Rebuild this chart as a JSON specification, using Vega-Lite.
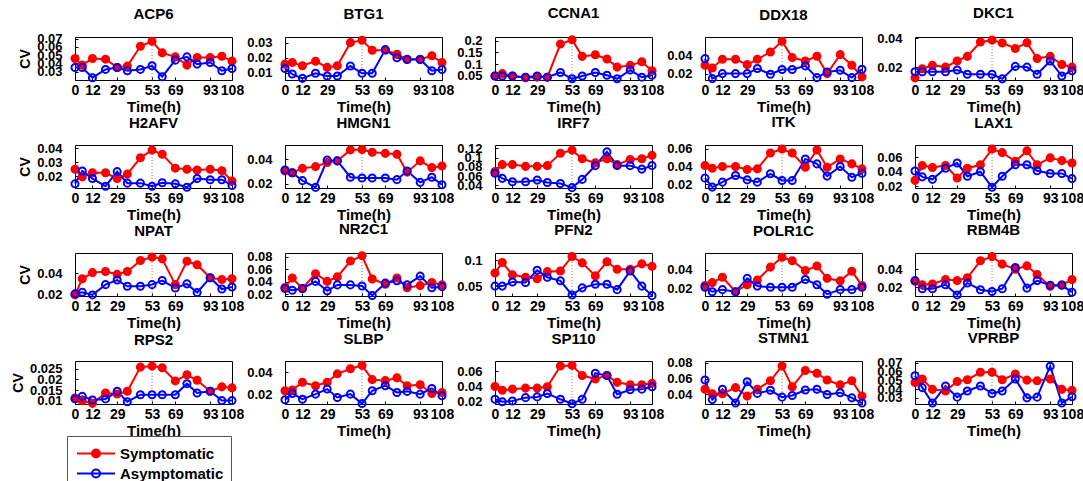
{
"$schema":"https://vega.github.io/schema/vega-lite/v6.json",
"autosize":{"type":"pad"},
"padding":{"left":10,"top":5,"right":5,"bottom":5},
"background":"white",
"columns":5,
"spacing":{"row":65,"column":53},
"bounds":"flush",
"data":{"values":[
{"g":"ACP6","t":0,"Symptomatic":0.046,"Asymptomatic":0.0352},{"g":"ACP6","t":5,"Symptomatic":0.038,"Asymptomatic":0.0352},{"g":"ACP6","t":12,"Symptomatic":0.046,"Asymptomatic":0.0228},{"g":"ACP6","t":21,"Symptomatic":0.0452,"Asymptomatic":0.0328},{"g":"ACP6","t":29,"Symptomatic":0.0352,"Asymptomatic":0.0352},{"g":"ACP6","t":36,"Symptomatic":0.0368,"Asymptomatic":0.0312},{"g":"ACP6","t":45,"Symptomatic":0.0608,"Asymptomatic":0.0328},{"g":"ACP6","t":53,"Symptomatic":0.0668,"Asymptomatic":0.0372},{"g":"ACP6","t":60,"Symptomatic":0.0528,"Asymptomatic":0.024},{"g":"ACP6","t":69,"Symptomatic":0.048,"Asymptomatic":0.044},{"g":"ACP6","t":77,"Symptomatic":0.038,"Asymptomatic":0.048},{"g":"ACP6","t":84,"Symptomatic":0.0472,"Asymptomatic":0.0392},{"g":"ACP6","t":93,"Symptomatic":0.0472,"Asymptomatic":0.0412},{"g":"ACP6","t":101,"Symptomatic":0.0488,"Asymptomatic":0.0312},{"g":"ACP6","t":108,"Symptomatic":0.0428,"Asymptomatic":0.034},
{"g":"BTG1","t":0,"Symptomatic":0.0157,"Asymptomatic":0.0128},{"g":"BTG1","t":5,"Symptomatic":0.0168,"Asymptomatic":0.009},{"g":"BTG1","t":12,"Symptomatic":0.0146,"Asymptomatic":0.0061},{"g":"BTG1","t":21,"Symptomatic":0.0177,"Asymptomatic":0.0095},{"g":"BTG1","t":29,"Symptomatic":0.0135,"Asymptomatic":0.0077},{"g":"BTG1","t":36,"Symptomatic":0.0146,"Asymptomatic":0.0077},{"g":"BTG1","t":45,"Symptomatic":0.0302,"Asymptomatic":0.0144},{"g":"BTG1","t":53,"Symptomatic":0.0318,"Asymptomatic":0.0095},{"g":"BTG1","t":60,"Symptomatic":0.0251,"Asymptomatic":0.0095},{"g":"BTG1","t":69,"Symptomatic":0.0251,"Asymptomatic":0.0255},{"g":"BTG1","t":77,"Symptomatic":0.0224,"Asymptomatic":0.02},{"g":"BTG1","t":84,"Symptomatic":0.019,"Asymptomatic":0.0188},{"g":"BTG1","t":93,"Symptomatic":0.019,"Asymptomatic":0.0188},{"g":"BTG1","t":101,"Symptomatic":0.0213,"Asymptomatic":0.0112},{"g":"BTG1","t":108,"Symptomatic":0.0168,"Asymptomatic":0.0121},
{"g":"CCNA1","t":0,"Symptomatic":0.05,"Asymptomatic":0.05},{"g":"CCNA1","t":5,"Symptomatic":0.06,"Asymptomatic":0.05},{"g":"CCNA1","t":12,"Symptomatic":0.05,"Asymptomatic":0.05},{"g":"CCNA1","t":21,"Symptomatic":0.0425,"Asymptomatic":0.045},{"g":"CCNA1","t":29,"Symptomatic":0.045,"Asymptomatic":0.05},{"g":"CCNA1","t":36,"Symptomatic":0.045,"Asymptomatic":0.045},{"g":"CCNA1","t":45,"Symptomatic":0.185,"Asymptomatic":0.065},{"g":"CCNA1","t":53,"Symptomatic":0.203,"Asymptomatic":0.038},{"g":"CCNA1","t":60,"Symptomatic":0.133,"Asymptomatic":0.05},{"g":"CCNA1","t":69,"Symptomatic":0.14,"Asymptomatic":0.065},{"g":"CCNA1","t":77,"Symptomatic":0.122,"Asymptomatic":0.053},{"g":"CCNA1","t":84,"Symptomatic":0.0875,"Asymptomatic":0.038},{"g":"CCNA1","t":93,"Symptomatic":0.095,"Asymptomatic":0.075},{"g":"CCNA1","t":101,"Symptomatic":0.11,"Asymptomatic":0.045},{"g":"CCNA1","t":108,"Symptomatic":0.0725,"Asymptomatic":0.053},
{"g":"DDX18","t":0,"Symptomatic":0.0291,"Asymptomatic":0.0364},{"g":"DDX18","t":5,"Symptomatic":0.0262,"Asymptomatic":0.0145},{"g":"DDX18","t":12,"Symptomatic":0.0356,"Asymptomatic":0.02},{"g":"DDX18","t":21,"Symptomatic":0.0356,"Asymptomatic":0.02},{"g":"DDX18","t":29,"Symptomatic":0.0298,"Asymptomatic":0.02},{"g":"DDX18","t":36,"Symptomatic":0.0356,"Asymptomatic":0.0255},{"g":"DDX18","t":45,"Symptomatic":0.0436,"Asymptomatic":0.0193},{"g":"DDX18","t":53,"Symptomatic":0.0553,"Asymptomatic":0.0244},{"g":"DDX18","t":60,"Symptomatic":0.0375,"Asymptomatic":0.0244},{"g":"DDX18","t":69,"Symptomatic":0.0338,"Asymptomatic":0.0284},{"g":"DDX18","t":77,"Symptomatic":0.0389,"Asymptomatic":0.0156},{"g":"DDX18","t":84,"Symptomatic":0.02,"Asymptomatic":0.0218},{"g":"DDX18","t":93,"Symptomatic":0.0407,"Asymptomatic":0.0236},{"g":"DDX18","t":101,"Symptomatic":0.0291,"Asymptomatic":0.0156},{"g":"DDX18","t":108,"Symptomatic":0.0164,"Asymptomatic":0.0247},
{"g":"DKC1","t":0,"Symptomatic":0.0125,"Asymptomatic":0.0168},{"g":"DKC1","t":5,"Symptomatic":0.0188,"Asymptomatic":0.0168},{"g":"DKC1","t":12,"Symptomatic":0.0212,"Asymptomatic":0.0168},{"g":"DKC1","t":21,"Symptomatic":0.02,"Asymptomatic":0.0168},{"g":"DKC1","t":29,"Symptomatic":0.0243,"Asymptomatic":0.018},{"g":"DKC1","t":36,"Symptomatic":0.0275,"Asymptomatic":0.015},{"g":"DKC1","t":45,"Symptomatic":0.0375,"Asymptomatic":0.015},{"g":"DKC1","t":53,"Symptomatic":0.0388,"Asymptomatic":0.015},{"g":"DKC1","t":60,"Symptomatic":0.0368,"Asymptomatic":0.0118},{"g":"DKC1","t":69,"Symptomatic":0.033,"Asymptomatic":0.0205},{"g":"DKC1","t":77,"Symptomatic":0.037,"Asymptomatic":0.02},{"g":"DKC1","t":84,"Symptomatic":0.026,"Asymptomatic":0.015},{"g":"DKC1","t":93,"Symptomatic":0.0275,"Asymptomatic":0.0243},{"g":"DKC1","t":101,"Symptomatic":0.0218,"Asymptomatic":0.0138},{"g":"DKC1","t":108,"Symptomatic":0.02,"Asymptomatic":0.0175},
{"g":"H2AFV","t":0,"Symptomatic":0.025,"Asymptomatic":0.0145},{"g":"H2AFV","t":5,"Symptomatic":0.0195,"Asymptomatic":0.0238},{"g":"H2AFV","t":12,"Symptomatic":0.0225,"Asymptomatic":0.0183},{"g":"H2AFV","t":21,"Symptomatic":0.0225,"Asymptomatic":0.0128},{"g":"H2AFV","t":29,"Symptomatic":0.0183,"Asymptomatic":0.0233},{"g":"H2AFV","t":36,"Symptomatic":0.0215,"Asymptomatic":0.015},{"g":"H2AFV","t":45,"Symptomatic":0.0333,"Asymptomatic":0.015},{"g":"H2AFV","t":53,"Symptomatic":0.0388,"Asymptomatic":0.0128},{"g":"H2AFV","t":60,"Symptomatic":0.0358,"Asymptomatic":0.0153},{"g":"H2AFV","t":69,"Symptomatic":0.0258,"Asymptomatic":0.0145},{"g":"H2AFV","t":77,"Symptomatic":0.025,"Asymptomatic":0.012},{"g":"H2AFV","t":84,"Symptomatic":0.0245,"Asymptomatic":0.0183},{"g":"H2AFV","t":93,"Symptomatic":0.025,"Asymptomatic":0.0175},{"g":"H2AFV","t":101,"Symptomatic":0.024,"Asymptomatic":0.0175},{"g":"H2AFV","t":108,"Symptomatic":0.0165,"Asymptomatic":0.0133},
{"g":"HMGN1","t":0,"Symptomatic":0.0303,"Asymptomatic":0.0311},{"g":"HMGN1","t":5,"Symptomatic":0.0289,"Asymptomatic":0.0289},{"g":"HMGN1","t":12,"Symptomatic":0.0325,"Asymptomatic":0.0225},{"g":"HMGN1","t":21,"Symptomatic":0.0339,"Asymptomatic":0.017},{"g":"HMGN1","t":29,"Symptomatic":0.0372,"Asymptomatic":0.0392},{"g":"HMGN1","t":36,"Symptomatic":0.0386,"Asymptomatic":0.0386},{"g":"HMGN1","t":45,"Symptomatic":0.0475,"Asymptomatic":0.0253},{"g":"HMGN1","t":53,"Symptomatic":0.0478,"Asymptomatic":0.0247},{"g":"HMGN1","t":60,"Symptomatic":0.0456,"Asymptomatic":0.0247},{"g":"HMGN1","t":69,"Symptomatic":0.0447,"Asymptomatic":0.0247},{"g":"HMGN1","t":77,"Symptomatic":0.044,"Asymptomatic":0.0233},{"g":"HMGN1","t":84,"Symptomatic":0.0294,"Asymptomatic":0.0303},{"g":"HMGN1","t":93,"Symptomatic":0.0386,"Asymptomatic":0.0211},{"g":"HMGN1","t":101,"Symptomatic":0.0331,"Asymptomatic":0.0253},{"g":"HMGN1","t":108,"Symptomatic":0.0344,"Asymptomatic":0.0192},
{"g":"IRF7","t":0,"Symptomatic":0.07,"Asymptomatic":0.0662},{"g":"IRF7","t":5,"Symptomatic":0.0849,"Asymptomatic":0.055},{"g":"IRF7","t":12,"Symptomatic":0.0849,"Asymptomatic":0.0475},{"g":"IRF7","t":21,"Symptomatic":0.0811,"Asymptomatic":0.0475},{"g":"IRF7","t":29,"Symptomatic":0.0811,"Asymptomatic":0.0512},{"g":"IRF7","t":36,"Symptomatic":0.0826,"Asymptomatic":0.046},{"g":"IRF7","t":45,"Symptomatic":0.1095,"Asymptomatic":0.0437},{"g":"IRF7","t":53,"Symptomatic":0.1163,"Asymptomatic":0.0348},{"g":"IRF7","t":60,"Symptomatic":0.0976,"Asymptomatic":0.0527},{"g":"IRF7","t":69,"Symptomatic":0.0886,"Asymptomatic":0.0826},{"g":"IRF7","t":77,"Symptomatic":0.0976,"Asymptomatic":0.1125},{"g":"IRF7","t":84,"Symptomatic":0.0849,"Asymptomatic":0.0826},{"g":"IRF7","t":93,"Symptomatic":0.0961,"Asymptomatic":0.0826},{"g":"IRF7","t":101,"Symptomatic":0.0976,"Asymptomatic":0.0751},{"g":"IRF7","t":108,"Symptomatic":0.105,"Asymptomatic":0.0826},
{"g":"ITK","t":0,"Symptomatic":0.0413,"Asymptomatic":0.0271},{"g":"ITK","t":5,"Symptomatic":0.0383,"Asymptomatic":0.017},{"g":"ITK","t":12,"Symptomatic":0.0402,"Asymptomatic":0.0226},{"g":"ITK","t":21,"Symptomatic":0.0402,"Asymptomatic":0.0301},{"g":"ITK","t":29,"Symptomatic":0.0368,"Asymptomatic":0.0252},{"g":"ITK","t":36,"Symptomatic":0.0376,"Asymptomatic":0.0226},{"g":"ITK","t":45,"Symptomatic":0.0555,"Asymptomatic":0.032},{"g":"ITK","t":53,"Symptomatic":0.06,"Asymptomatic":0.0245},{"g":"ITK","t":60,"Symptomatic":0.0555,"Asymptomatic":0.0245},{"g":"ITK","t":69,"Symptomatic":0.0394,"Asymptomatic":0.0488},{"g":"ITK","t":77,"Symptomatic":0.0589,"Asymptomatic":0.0432},{"g":"ITK","t":84,"Symptomatic":0.0394,"Asymptomatic":0.0294},{"g":"ITK","t":93,"Symptomatic":0.0488,"Asymptomatic":0.0402},{"g":"ITK","t":101,"Symptomatic":0.0432,"Asymptomatic":0.0282},{"g":"ITK","t":108,"Symptomatic":0.0376,"Asymptomatic":0.0327},
{"g":"LAX1","t":0,"Symptomatic":0.0281,"Asymptomatic":0.041},{"g":"LAX1","t":5,"Symptomatic":0.0486,"Asymptomatic":0.0329},{"g":"LAX1","t":12,"Symptomatic":0.0457,"Asymptomatic":0.0295},{"g":"LAX1","t":21,"Symptomatic":0.0486,"Asymptomatic":0.0448},{"g":"LAX1","t":29,"Symptomatic":0.0314,"Asymptomatic":0.0519},{"g":"LAX1","t":36,"Symptomatic":0.0448,"Asymptomatic":0.0338},{"g":"LAX1","t":45,"Symptomatic":0.0495,"Asymptomatic":0.04},{"g":"LAX1","t":53,"Symptomatic":0.071,"Asymptomatic":0.0186},{"g":"LAX1","t":60,"Symptomatic":0.0662,"Asymptomatic":0.0338},{"g":"LAX1","t":69,"Symptomatic":0.0543,"Asymptomatic":0.0495},{"g":"LAX1","t":77,"Symptomatic":0.0686,"Asymptomatic":0.0495},{"g":"LAX1","t":84,"Symptomatic":0.0495,"Asymptomatic":0.0414},{"g":"LAX1","t":93,"Symptomatic":0.059,"Asymptomatic":0.0376},{"g":"LAX1","t":101,"Symptomatic":0.0552,"Asymptomatic":0.0376},{"g":"LAX1","t":108,"Symptomatic":0.0519,"Asymptomatic":0.0305},
{"g":"NPAT","t":0,"Symptomatic":0.02,"Asymptomatic":0.021},{"g":"NPAT","t":5,"Symptomatic":0.0349,"Asymptomatic":0.0225},{"g":"NPAT","t":12,"Symptomatic":0.0406,"Asymptomatic":0.02},{"g":"NPAT","t":21,"Symptomatic":0.0416,"Asymptomatic":0.0295},{"g":"NPAT","t":29,"Symptomatic":0.039,"Asymptomatic":0.0337},{"g":"NPAT","t":36,"Symptomatic":0.0416,"Asymptomatic":0.028},{"g":"NPAT","t":45,"Symptomatic":0.0517,"Asymptomatic":0.028},{"g":"NPAT","t":53,"Symptomatic":0.0549,"Asymptomatic":0.0295},{"g":"NPAT","t":60,"Symptomatic":0.0533,"Asymptomatic":0.0333},{"g":"NPAT","t":69,"Symptomatic":0.0295,"Asymptomatic":0.0264},{"g":"NPAT","t":77,"Symptomatic":0.0511,"Asymptomatic":0.0302},{"g":"NPAT","t":84,"Symptomatic":0.0479,"Asymptomatic":0.0222},{"g":"NPAT","t":93,"Symptomatic":0.0359,"Asymptomatic":0.0359},{"g":"NPAT","t":101,"Symptomatic":0.0343,"Asymptomatic":0.0254},{"g":"NPAT","t":108,"Symptomatic":0.0349,"Asymptomatic":0.0273},
{"g":"NR2C1","t":0,"Symptomatic":0.0307,"Asymptomatic":0.029},{"g":"NR2C1","t":5,"Symptomatic":0.0458,"Asymptomatic":0.0263},{"g":"NR2C1","t":12,"Symptomatic":0.029,"Asymptomatic":0.029},{"g":"NR2C1","t":21,"Symptomatic":0.0526,"Asymptomatic":0.0403},{"g":"NR2C1","t":29,"Symptomatic":0.0403,"Asymptomatic":0.0252},{"g":"NR2C1","t":36,"Symptomatic":0.0475,"Asymptomatic":0.0347},{"g":"NR2C1","t":45,"Symptomatic":0.0727,"Asymptomatic":0.0347},{"g":"NR2C1","t":53,"Symptomatic":0.0811,"Asymptomatic":0.033},{"g":"NR2C1","t":60,"Symptomatic":0.0441,"Asymptomatic":0.0179},{"g":"NR2C1","t":69,"Symptomatic":0.0358,"Asymptomatic":0.0375},{"g":"NR2C1","t":77,"Symptomatic":0.0458,"Asymptomatic":0.0414},{"g":"NR2C1","t":84,"Symptomatic":0.0302,"Asymptomatic":0.0347},{"g":"NR2C1","t":93,"Symptomatic":0.0336,"Asymptomatic":0.0487},{"g":"NR2C1","t":101,"Symptomatic":0.0386,"Asymptomatic":0.0302},{"g":"NR2C1","t":108,"Symptomatic":0.0347,"Asymptomatic":0.0319},
{"g":"PFN2","t":0,"Symptomatic":0.075,"Asymptomatic":0.05},{"g":"PFN2","t":5,"Symptomatic":0.0953,"Asymptomatic":0.05},{"g":"PFN2","t":12,"Symptomatic":0.0716,"Asymptomatic":0.058},{"g":"PFN2","t":21,"Symptomatic":0.0669,"Asymptomatic":0.057},{"g":"PFN2","t":29,"Symptomatic":0.064,"Asymptomatic":0.0804},{"g":"PFN2","t":36,"Symptomatic":0.0777,"Asymptomatic":0.0669},{"g":"PFN2","t":45,"Symptomatic":0.0791,"Asymptomatic":0.0601},{"g":"PFN2","t":53,"Symptomatic":0.1068,"Asymptomatic":0.033},{"g":"PFN2","t":60,"Symptomatic":0.0946,"Asymptomatic":0.0466},{"g":"PFN2","t":69,"Symptomatic":0.0696,"Asymptomatic":0.0534},{"g":"PFN2","t":77,"Symptomatic":0.0966,"Asymptomatic":0.0534},{"g":"PFN2","t":84,"Symptomatic":0.0824,"Asymptomatic":0.0432},{"g":"PFN2","t":93,"Symptomatic":0.0824,"Asymptomatic":0.0791},{"g":"PFN2","t":101,"Symptomatic":0.0926,"Asymptomatic":0.05},{"g":"PFN2","t":108,"Symptomatic":0.0878,"Asymptomatic":0.0317},
{"g":"POLR1C","t":0,"Symptomatic":0.023,"Asymptomatic":0.0211},{"g":"POLR1C","t":5,"Symptomatic":0.026,"Asymptomatic":0.0162},{"g":"POLR1C","t":12,"Symptomatic":0.0317,"Asymptomatic":0.0185},{"g":"POLR1C","t":21,"Symptomatic":0.0162,"Asymptomatic":0.0162},{"g":"POLR1C","t":29,"Symptomatic":0.0238,"Asymptomatic":0.0306},{"g":"POLR1C","t":36,"Symptomatic":0.0287,"Asymptomatic":0.0223},{"g":"POLR1C","t":45,"Symptomatic":0.0426,"Asymptomatic":0.0211},{"g":"POLR1C","t":53,"Symptomatic":0.0532,"Asymptomatic":0.0211},{"g":"POLR1C","t":60,"Symptomatic":0.0494,"Asymptomatic":0.0211},{"g":"POLR1C","t":69,"Symptomatic":0.0389,"Asymptomatic":0.0294},{"g":"POLR1C","t":77,"Symptomatic":0.0438,"Asymptomatic":0.0238},{"g":"POLR1C","t":84,"Symptomatic":0.0306,"Asymptomatic":0.0136},{"g":"POLR1C","t":93,"Symptomatic":0.0279,"Asymptomatic":0.0185},{"g":"POLR1C","t":101,"Symptomatic":0.0381,"Asymptomatic":0.0185},{"g":"POLR1C","t":108,"Symptomatic":0.023,"Asymptomatic":0.0211},
{"g":"RBM4B","t":0,"Symptomatic":0.0268,"Asymptomatic":0.0275},{"g":"RBM4B","t":5,"Symptomatic":0.023,"Asymptomatic":0.0185},{"g":"RBM4B","t":12,"Symptomatic":0.0238,"Asymptomatic":0.0185},{"g":"RBM4B","t":21,"Symptomatic":0.0287,"Asymptomatic":0.023},{"g":"RBM4B","t":29,"Symptomatic":0.0275,"Asymptomatic":0.0117},{"g":"RBM4B","t":36,"Symptomatic":0.0306,"Asymptomatic":0.0249},{"g":"RBM4B","t":45,"Symptomatic":0.0494,"Asymptomatic":0.0174},{"g":"RBM4B","t":53,"Symptomatic":0.054,"Asymptomatic":0.0155},{"g":"RBM4B","t":60,"Symptomatic":0.0457,"Asymptomatic":0.0185},{"g":"RBM4B","t":69,"Symptomatic":0.04,"Asymptomatic":0.0419},{"g":"RBM4B","t":77,"Symptomatic":0.0438,"Asymptomatic":0.0192},{"g":"RBM4B","t":84,"Symptomatic":0.0343,"Asymptomatic":0.0275},{"g":"RBM4B","t":93,"Symptomatic":0.0211,"Asymptomatic":0.0223},{"g":"RBM4B","t":101,"Symptomatic":0.023,"Asymptomatic":0.0223},{"g":"RBM4B","t":108,"Symptomatic":0.0287,"Asymptomatic":0.0147},
{"g":"RPS2","t":0,"Symptomatic":0.0112,"Asymptomatic":0.0108},{"g":"RPS2","t":5,"Symptomatic":0.0099,"Asymptomatic":0.012},{"g":"RPS2","t":12,"Symptomatic":0.0087,"Asymptomatic":0.0103},{"g":"RPS2","t":21,"Symptomatic":0.0136,"Asymptomatic":0.0108},{"g":"RPS2","t":29,"Symptomatic":0.0131,"Asymptomatic":0.0144},{"g":"RPS2","t":36,"Symptomatic":0.0144,"Asymptomatic":0.0095},{"g":"RPS2","t":45,"Symptomatic":0.0258,"Asymptomatic":0.0128},{"g":"RPS2","t":53,"Symptomatic":0.0263,"Asymptomatic":0.0128},{"g":"RPS2","t":60,"Symptomatic":0.0255,"Asymptomatic":0.0128},{"g":"RPS2","t":69,"Symptomatic":0.0193,"Asymptomatic":0.0128},{"g":"RPS2","t":77,"Symptomatic":0.0222,"Asymptomatic":0.018},{"g":"RPS2","t":84,"Symptomatic":0.0196,"Asymptomatic":0.0136},{"g":"RPS2","t":93,"Symptomatic":0.0144,"Asymptomatic":0.0144},{"g":"RPS2","t":101,"Symptomatic":0.0165,"Asymptomatic":0.01},{"g":"RPS2","t":108,"Symptomatic":0.016,"Asymptomatic":0.01},
{"g":"SLBP","t":0,"Symptomatic":0.0231,"Asymptomatic":0.0148},{"g":"SLBP","t":5,"Symptomatic":0.0237,"Asymptomatic":0.0206},{"g":"SLBP","t":12,"Symptomatic":0.0308,"Asymptomatic":0.0154},{"g":"SLBP","t":21,"Symptomatic":0.0277,"Asymptomatic":0.02},{"g":"SLBP","t":29,"Symptomatic":0.0308,"Asymptomatic":0.0246},{"g":"SLBP","t":36,"Symptomatic":0.0385,"Asymptomatic":0.0169},{"g":"SLBP","t":45,"Symptomatic":0.0431,"Asymptomatic":0.02},{"g":"SLBP","t":53,"Symptomatic":0.0462,"Asymptomatic":0.0114},{"g":"SLBP","t":60,"Symptomatic":0.0332,"Asymptomatic":0.0231},{"g":"SLBP","t":69,"Symptomatic":0.0323,"Asymptomatic":0.0277},{"g":"SLBP","t":77,"Symptomatic":0.0348,"Asymptomatic":0.0215},{"g":"SLBP","t":84,"Symptomatic":0.0277,"Asymptomatic":0.0225},{"g":"SLBP","t":93,"Symptomatic":0.0286,"Asymptomatic":0.02},{"g":"SLBP","t":101,"Symptomatic":0.0206,"Asymptomatic":0.0252},{"g":"SLBP","t":108,"Symptomatic":0.0215,"Asymptomatic":0.0185},
{"g":"SP110","t":0,"Symptomatic":0.0395,"Asymptomatic":0.0223},{"g":"SP110","t":5,"Symptomatic":0.0345,"Asymptomatic":0.0191},{"g":"SP110","t":12,"Symptomatic":0.0359,"Asymptomatic":0.02},{"g":"SP110","t":21,"Symptomatic":0.0373,"Asymptomatic":0.0245},{"g":"SP110","t":29,"Symptomatic":0.0373,"Asymptomatic":0.0255},{"g":"SP110","t":36,"Symptomatic":0.0391,"Asymptomatic":0.03},{"g":"SP110","t":45,"Symptomatic":0.0668,"Asymptomatic":0.0223},{"g":"SP110","t":53,"Symptomatic":0.0677,"Asymptomatic":0.0164},{"g":"SP110","t":60,"Symptomatic":0.0541,"Asymptomatic":0.0223},{"g":"SP110","t":69,"Symptomatic":0.0495,"Asymptomatic":0.0573},{"g":"SP110","t":77,"Symptomatic":0.0541,"Asymptomatic":0.0541},{"g":"SP110","t":84,"Symptomatic":0.045,"Asymptomatic":0.0291},{"g":"SP110","t":93,"Symptomatic":0.0418,"Asymptomatic":0.035},{"g":"SP110","t":101,"Symptomatic":0.0418,"Asymptomatic":0.0359},{"g":"SP110","t":108,"Symptomatic":0.0436,"Asymptomatic":0.0391},
{"g":"STMN1","t":0,"Symptomatic":0.0465,"Asymptomatic":0.0581},{"g":"STMN1","t":5,"Symptomatic":0.0409,"Asymptomatic":0.0335},{"g":"STMN1","t":12,"Symptomatic":0.0409,"Asymptomatic":0.0465},{"g":"STMN1","t":21,"Symptomatic":0.0486,"Asymptomatic":0.0292},{"g":"STMN1","t":29,"Symptomatic":0.0379,"Asymptomatic":0.0559},{"g":"STMN1","t":36,"Symptomatic":0.0465,"Asymptomatic":0.0413},{"g":"STMN1","t":45,"Symptomatic":0.0572,"Asymptomatic":0.0452},{"g":"STMN1","t":53,"Symptomatic":0.0757,"Asymptomatic":0.0366},{"g":"STMN1","t":60,"Symptomatic":0.0495,"Asymptomatic":0.0387},{"g":"STMN1","t":69,"Symptomatic":0.0701,"Asymptomatic":0.0456},{"g":"STMN1","t":77,"Symptomatic":0.0667,"Asymptomatic":0.0465},{"g":"STMN1","t":84,"Symptomatic":0.0581,"Asymptomatic":0.04},{"g":"STMN1","t":93,"Symptomatic":0.052,"Asymptomatic":0.0422},{"g":"STMN1","t":101,"Symptomatic":0.0572,"Asymptomatic":0.0357},{"g":"STMN1","t":108,"Symptomatic":0.0379,"Asymptomatic":0.0292},
{"g":"VPRBP","t":0,"Symptomatic":0.0475,"Asymptomatic":0.0552},{"g":"VPRBP","t":5,"Symptomatic":0.0514,"Asymptomatic":0.0417},{"g":"VPRBP","t":12,"Symptomatic":0.0397,"Asymptomatic":0.0242},{"g":"VPRBP","t":21,"Symptomatic":0.0378,"Asymptomatic":0.0436},{"g":"VPRBP","t":29,"Symptomatic":0.0486,"Asymptomatic":0.0308},{"g":"VPRBP","t":36,"Symptomatic":0.0506,"Asymptomatic":0.0378},{"g":"VPRBP","t":45,"Symptomatic":0.0591,"Asymptomatic":0.0436},{"g":"VPRBP","t":53,"Symptomatic":0.0591,"Asymptomatic":0.035},{"g":"VPRBP","t":60,"Symptomatic":0.0506,"Asymptomatic":0.0378},{"g":"VPRBP","t":69,"Symptomatic":0.0572,"Asymptomatic":0.0514},{"g":"VPRBP","t":77,"Symptomatic":0.0502,"Asymptomatic":0.03},{"g":"VPRBP","t":84,"Symptomatic":0.0494,"Asymptomatic":0.0308},{"g":"VPRBP","t":93,"Symptomatic":0.0514,"Asymptomatic":0.0661},{"g":"VPRBP","t":101,"Symptomatic":0.0397,"Asymptomatic":0.0242},{"g":"VPRBP","t":108,"Symptomatic":0.0385,"Asymptomatic":0.0312}
]},
"concat":[
{"title":"ACP6","width":157,"height":43,"encoding":{"x":{"field":"t","type":"quantitative","scale":{"domain":[0,108],"nice":false},"axis":{"values":[0,12,29,53,69,93,108],"labelOverlap":false,"title":"Time(h)"}}},"layer":[{"data":{"values":[{"t":53}]},"mark":{"type":"rule","color":"#808080","strokeDash":[1,2],"strokeWidth":1},"encoding":{}},{"transform":[{"filter":"datum.g==='ACP6'"},{"fold":["Symptomatic","Asymptomatic"],"as":["group","cv"]}],"encoding":{"y":{"field":"cv","type":"quantitative","scale":{"domain":[0.02,0.072],"nice":false,"zero":false},"axis":{"values":[0.03,0.04,0.05,0.06,0.07],"format":"~g","labelOverlap":false,"title":"CV"}},"color":{"field":"group","type":"nominal","title":null,"scale":{"domain":["Symptomatic","Asymptomatic"],"range":["#ff0000","#0000ff"]}}},"layer":[{"mark":{"type":"line","strokeWidth":2}},{"mark":{"type":"point","filled":false,"size":50,"strokeWidth":2,"opacity":1},"encoding":{"fill":{"field":"group","type":"nominal","title":null,"scale":{"domain":["Symptomatic","Asymptomatic"],"range":["#ff0000","transparent"]}}}}]}]},
{"title":"BTG1","width":157,"height":43,"encoding":{"x":{"field":"t","type":"quantitative","scale":{"domain":[0,108],"nice":false},"axis":{"values":[0,12,29,53,69,93,108],"labelOverlap":false,"title":"Time(h)"}}},"layer":[{"data":{"values":[{"t":53}]},"mark":{"type":"rule","color":"#808080","strokeDash":[1,2],"strokeWidth":1},"encoding":{}},{"transform":[{"filter":"datum.g==='BTG1'"},{"fold":["Symptomatic","Asymptomatic"],"as":["group","cv"]}],"encoding":{"y":{"field":"cv","type":"quantitative","scale":{"domain":[0.005,0.034],"nice":false,"zero":false},"axis":{"values":[0.01,0.02,0.03],"format":"~g","labelOverlap":false,"title":null}},"color":{"field":"group","type":"nominal","title":null,"scale":{"domain":["Symptomatic","Asymptomatic"],"range":["#ff0000","#0000ff"]}}},"layer":[{"mark":{"type":"line","strokeWidth":2}},{"mark":{"type":"point","filled":false,"size":50,"strokeWidth":2,"opacity":1},"encoding":{"fill":{"field":"group","type":"nominal","title":null,"scale":{"domain":["Symptomatic","Asymptomatic"],"range":["#ff0000","transparent"]}}}}]}]},
{"title":"CCNA1","width":157,"height":43,"encoding":{"x":{"field":"t","type":"quantitative","scale":{"domain":[0,108],"nice":false},"axis":{"values":[0,12,29,53,69,93,108],"labelOverlap":false,"title":"Time(h)"}}},"layer":[{"data":{"values":[{"t":53}]},"mark":{"type":"rule","color":"#808080","strokeDash":[1,2],"strokeWidth":1},"encoding":{}},{"transform":[{"filter":"datum.g==='CCNA1'"},{"fold":["Symptomatic","Asymptomatic"],"as":["group","cv"]}],"encoding":{"y":{"field":"cv","type":"quantitative","scale":{"domain":[0.033,0.215],"nice":false,"zero":false},"axis":{"values":[0.05,0.1,0.15,0.2],"format":"~g","labelOverlap":false,"title":null}},"color":{"field":"group","type":"nominal","title":null,"scale":{"domain":["Symptomatic","Asymptomatic"],"range":["#ff0000","#0000ff"]}}},"layer":[{"mark":{"type":"line","strokeWidth":2}},{"mark":{"type":"point","filled":false,"size":50,"strokeWidth":2,"opacity":1},"encoding":{"fill":{"field":"group","type":"nominal","title":null,"scale":{"domain":["Symptomatic","Asymptomatic"],"range":["#ff0000","transparent"]}}}}]}]},
{"title":"DDX18","width":157,"height":43,"encoding":{"x":{"field":"t","type":"quantitative","scale":{"domain":[0,108],"nice":false},"axis":{"values":[0,12,29,53,69,93,108],"labelOverlap":false,"title":"Time(h)"}}},"layer":[{"data":{"values":[{"t":53}]},"mark":{"type":"rule","color":"#808080","strokeDash":[1,2],"strokeWidth":1},"encoding":{}},{"transform":[{"filter":"datum.g==='DDX18'"},{"fold":["Symptomatic","Asymptomatic"],"as":["group","cv"]}],"encoding":{"y":{"field":"cv","type":"quantitative","scale":{"domain":[0.013,0.06],"nice":false,"zero":false},"axis":{"values":[0.02,0.04],"format":"~g","labelOverlap":false,"title":null}},"color":{"field":"group","type":"nominal","title":null,"scale":{"domain":["Symptomatic","Asymptomatic"],"range":["#ff0000","#0000ff"]}}},"layer":[{"mark":{"type":"line","strokeWidth":2}},{"mark":{"type":"point","filled":false,"size":50,"strokeWidth":2,"opacity":1},"encoding":{"fill":{"field":"group","type":"nominal","title":null,"scale":{"domain":["Symptomatic","Asymptomatic"],"range":["#ff0000","transparent"]}}}}]}]},
{"title":"DKC1","width":157,"height":43,"encoding":{"x":{"field":"t","type":"quantitative","scale":{"domain":[0,108],"nice":false},"axis":{"values":[0,12,29,53,69,93,108],"labelOverlap":false,"title":"Time(h)"}}},"layer":[{"data":{"values":[{"t":53}]},"mark":{"type":"rule","color":"#808080","strokeDash":[1,2],"strokeWidth":1},"encoding":{}},{"transform":[{"filter":"datum.g==='DKC1'"},{"fold":["Symptomatic","Asymptomatic"],"as":["group","cv"]}],"encoding":{"y":{"field":"cv","type":"quantitative","scale":{"domain":[0.011,0.041],"nice":false,"zero":false},"axis":{"values":[0.02,0.04],"format":"~g","labelOverlap":false,"title":null}},"color":{"field":"group","type":"nominal","title":null,"scale":{"domain":["Symptomatic","Asymptomatic"],"range":["#ff0000","#0000ff"]}}},"layer":[{"mark":{"type":"line","strokeWidth":2}},{"mark":{"type":"point","filled":false,"size":50,"strokeWidth":2,"opacity":1},"encoding":{"fill":{"field":"group","type":"nominal","title":null,"scale":{"domain":["Symptomatic","Asymptomatic"],"range":["#ff0000","transparent"]}}}}]}]},
{"title":"H2AFV","width":157,"height":43,"encoding":{"x":{"field":"t","type":"quantitative","scale":{"domain":[0,108],"nice":false},"axis":{"values":[0,12,29,53,69,93,108],"labelOverlap":false,"title":"Time(h)"}}},"layer":[{"data":{"values":[{"t":53}]},"mark":{"type":"rule","color":"#808080","strokeDash":[1,2],"strokeWidth":1},"encoding":{}},{"transform":[{"filter":"datum.g==='H2AFV'"},{"fold":["Symptomatic","Asymptomatic"],"as":["group","cv"]}],"encoding":{"y":{"field":"cv","type":"quantitative","scale":{"domain":[0.0115,0.0425],"nice":false,"zero":false},"axis":{"values":[0.02,0.03,0.04],"format":"~g","labelOverlap":false,"title":"CV"}},"color":{"field":"group","type":"nominal","title":null,"scale":{"domain":["Symptomatic","Asymptomatic"],"range":["#ff0000","#0000ff"]}}},"layer":[{"mark":{"type":"line","strokeWidth":2}},{"mark":{"type":"point","filled":false,"size":50,"strokeWidth":2,"opacity":1},"encoding":{"fill":{"field":"group","type":"nominal","title":null,"scale":{"domain":["Symptomatic","Asymptomatic"],"range":["#ff0000","transparent"]}}}}]}]},
{"title":"HMGN1","width":157,"height":43,"encoding":{"x":{"field":"t","type":"quantitative","scale":{"domain":[0,108],"nice":false},"axis":{"values":[0,12,29,53,69,93,108],"labelOverlap":false,"title":"Time(h)"}}},"layer":[{"data":{"values":[{"t":53}]},"mark":{"type":"rule","color":"#808080","strokeDash":[1,2],"strokeWidth":1},"encoding":{}},{"transform":[{"filter":"datum.g==='HMGN1'"},{"fold":["Symptomatic","Asymptomatic"],"as":["group","cv"]}],"encoding":{"y":{"field":"cv","type":"quantitative","scale":{"domain":[0.0165,0.0515],"nice":false,"zero":false},"axis":{"values":[0.02,0.04],"format":"~g","labelOverlap":false,"title":null}},"color":{"field":"group","type":"nominal","title":null,"scale":{"domain":["Symptomatic","Asymptomatic"],"range":["#ff0000","#0000ff"]}}},"layer":[{"mark":{"type":"line","strokeWidth":2}},{"mark":{"type":"point","filled":false,"size":50,"strokeWidth":2,"opacity":1},"encoding":{"fill":{"field":"group","type":"nominal","title":null,"scale":{"domain":["Symptomatic","Asymptomatic"],"range":["#ff0000","transparent"]}}}}]}]},
{"title":"IRF7","width":157,"height":43,"encoding":{"x":{"field":"t","type":"quantitative","scale":{"domain":[0,108],"nice":false},"axis":{"values":[0,12,29,53,69,93,108],"labelOverlap":false,"title":"Time(h)"}}},"layer":[{"data":{"values":[{"t":53}]},"mark":{"type":"rule","color":"#808080","strokeDash":[1,2],"strokeWidth":1},"encoding":{}},{"transform":[{"filter":"datum.g==='IRF7'"},{"fold":["Symptomatic","Asymptomatic"],"as":["group","cv"]}],"encoding":{"y":{"field":"cv","type":"quantitative","scale":{"domain":[0.034,0.1275],"nice":false,"zero":false},"axis":{"values":[0.04,0.06,0.08,0.1,0.12],"format":"~g","labelOverlap":false,"title":null}},"color":{"field":"group","type":"nominal","title":null,"scale":{"domain":["Symptomatic","Asymptomatic"],"range":["#ff0000","#0000ff"]}}},"layer":[{"mark":{"type":"line","strokeWidth":2}},{"mark":{"type":"point","filled":false,"size":50,"strokeWidth":2,"opacity":1},"encoding":{"fill":{"field":"group","type":"nominal","title":null,"scale":{"domain":["Symptomatic","Asymptomatic"],"range":["#ff0000","transparent"]}}}}]}]},
{"title":"ITK","width":157,"height":43,"encoding":{"x":{"field":"t","type":"quantitative","scale":{"domain":[0,108],"nice":false},"axis":{"values":[0,12,29,53,69,93,108],"labelOverlap":false,"title":"Time(h)"}}},"layer":[{"data":{"values":[{"t":53}]},"mark":{"type":"rule","color":"#808080","strokeDash":[1,2],"strokeWidth":1},"encoding":{}},{"transform":[{"filter":"datum.g==='ITK'"},{"fold":["Symptomatic","Asymptomatic"],"as":["group","cv"]}],"encoding":{"y":{"field":"cv","type":"quantitative","scale":{"domain":[0.016,0.0645],"nice":false,"zero":false},"axis":{"values":[0.02,0.04,0.06],"format":"~g","labelOverlap":false,"title":null}},"color":{"field":"group","type":"nominal","title":null,"scale":{"domain":["Symptomatic","Asymptomatic"],"range":["#ff0000","#0000ff"]}}},"layer":[{"mark":{"type":"line","strokeWidth":2}},{"mark":{"type":"point","filled":false,"size":50,"strokeWidth":2,"opacity":1},"encoding":{"fill":{"field":"group","type":"nominal","title":null,"scale":{"domain":["Symptomatic","Asymptomatic"],"range":["#ff0000","transparent"]}}}}]}]},
{"title":"LAX1","width":157,"height":43,"encoding":{"x":{"field":"t","type":"quantitative","scale":{"domain":[0,108],"nice":false},"axis":{"values":[0,12,29,53,69,93,108],"labelOverlap":false,"title":"Time(h)"}}},"layer":[{"data":{"values":[{"t":53}]},"mark":{"type":"rule","color":"#808080","strokeDash":[1,2],"strokeWidth":1},"encoding":{}},{"transform":[{"filter":"datum.g==='LAX1'"},{"fold":["Symptomatic","Asymptomatic"],"as":["group","cv"]}],"encoding":{"y":{"field":"cv","type":"quantitative","scale":{"domain":[0.0176,0.0767],"nice":false,"zero":false},"axis":{"values":[0.02,0.04,0.06],"format":"~g","labelOverlap":false,"title":null}},"color":{"field":"group","type":"nominal","title":null,"scale":{"domain":["Symptomatic","Asymptomatic"],"range":["#ff0000","#0000ff"]}}},"layer":[{"mark":{"type":"line","strokeWidth":2}},{"mark":{"type":"point","filled":false,"size":50,"strokeWidth":2,"opacity":1},"encoding":{"fill":{"field":"group","type":"nominal","title":null,"scale":{"domain":["Symptomatic","Asymptomatic"],"range":["#ff0000","transparent"]}}}}]}]},
{"title":"NPAT","width":157,"height":43,"encoding":{"x":{"field":"t","type":"quantitative","scale":{"domain":[0,108],"nice":false},"axis":{"values":[0,12,29,53,69,93,108],"labelOverlap":false,"title":"Time(h)"}}},"layer":[{"data":{"values":[{"t":53}]},"mark":{"type":"rule","color":"#808080","strokeDash":[1,2],"strokeWidth":1},"encoding":{}},{"transform":[{"filter":"datum.g==='NPAT'"},{"fold":["Symptomatic","Asymptomatic"],"as":["group","cv"]}],"encoding":{"y":{"field":"cv","type":"quantitative","scale":{"domain":[0.019,0.0587],"nice":false,"zero":false},"axis":{"values":[0.02,0.04],"format":"~g","labelOverlap":false,"title":"CV"}},"color":{"field":"group","type":"nominal","title":null,"scale":{"domain":["Symptomatic","Asymptomatic"],"range":["#ff0000","#0000ff"]}}},"layer":[{"mark":{"type":"line","strokeWidth":2}},{"mark":{"type":"point","filled":false,"size":50,"strokeWidth":2,"opacity":1},"encoding":{"fill":{"field":"group","type":"nominal","title":null,"scale":{"domain":["Symptomatic","Asymptomatic"],"range":["#ff0000","transparent"]}}}}]}]},
{"title":"NR2C1","width":157,"height":43,"encoding":{"x":{"field":"t","type":"quantitative","scale":{"domain":[0,108],"nice":false},"axis":{"values":[0,12,29,53,69,93,108],"labelOverlap":false,"title":"Time(h)"}}},"layer":[{"data":{"values":[{"t":53}]},"mark":{"type":"rule","color":"#808080","strokeDash":[1,2],"strokeWidth":1},"encoding":{}},{"transform":[{"filter":"datum.g==='NR2C1'"},{"fold":["Symptomatic","Asymptomatic"],"as":["group","cv"]}],"encoding":{"y":{"field":"cv","type":"quantitative","scale":{"domain":[0.017,0.0856],"nice":false,"zero":false},"axis":{"values":[0.02,0.04,0.06,0.08],"format":"~g","labelOverlap":false,"title":null}},"color":{"field":"group","type":"nominal","title":null,"scale":{"domain":["Symptomatic","Asymptomatic"],"range":["#ff0000","#0000ff"]}}},"layer":[{"mark":{"type":"line","strokeWidth":2}},{"mark":{"type":"point","filled":false,"size":50,"strokeWidth":2,"opacity":1},"encoding":{"fill":{"field":"group","type":"nominal","title":null,"scale":{"domain":["Symptomatic","Asymptomatic"],"range":["#ff0000","transparent"]}}}}]}]},
{"title":"PFN2","width":157,"height":43,"encoding":{"x":{"field":"t","type":"quantitative","scale":{"domain":[0,108],"nice":false},"axis":{"values":[0,12,29,53,69,93,108],"labelOverlap":false,"title":"Time(h)"}}},"layer":[{"data":{"values":[{"t":53}]},"mark":{"type":"rule","color":"#808080","strokeDash":[1,2],"strokeWidth":1},"encoding":{}},{"transform":[{"filter":"datum.g==='PFN2'"},{"fold":["Symptomatic","Asymptomatic"],"as":["group","cv"]}],"encoding":{"y":{"field":"cv","type":"quantitative","scale":{"domain":[0.031,0.1135],"nice":false,"zero":false},"axis":{"values":[0.05,0.1],"format":"~g","labelOverlap":false,"title":null}},"color":{"field":"group","type":"nominal","title":null,"scale":{"domain":["Symptomatic","Asymptomatic"],"range":["#ff0000","#0000ff"]}}},"layer":[{"mark":{"type":"line","strokeWidth":2}},{"mark":{"type":"point","filled":false,"size":50,"strokeWidth":2,"opacity":1},"encoding":{"fill":{"field":"group","type":"nominal","title":null,"scale":{"domain":["Symptomatic","Asymptomatic"],"range":["#ff0000","transparent"]}}}}]}]},
{"title":"POLR1C","width":157,"height":43,"encoding":{"x":{"field":"t","type":"quantitative","scale":{"domain":[0,108],"nice":false},"axis":{"values":[0,12,29,53,69,93,108],"labelOverlap":false,"title":"Time(h)"}}},"layer":[{"data":{"values":[{"t":53}]},"mark":{"type":"rule","color":"#808080","strokeDash":[1,2],"strokeWidth":1},"encoding":{}},{"transform":[{"filter":"datum.g==='POLR1C'"},{"fold":["Symptomatic","Asymptomatic"],"as":["group","cv"]}],"encoding":{"y":{"field":"cv","type":"quantitative","scale":{"domain":[0.0117,0.0577],"nice":false,"zero":false},"axis":{"values":[0.02,0.04],"format":"~g","labelOverlap":false,"title":null}},"color":{"field":"group","type":"nominal","title":null,"scale":{"domain":["Symptomatic","Asymptomatic"],"range":["#ff0000","#0000ff"]}}},"layer":[{"mark":{"type":"line","strokeWidth":2}},{"mark":{"type":"point","filled":false,"size":50,"strokeWidth":2,"opacity":1},"encoding":{"fill":{"field":"group","type":"nominal","title":null,"scale":{"domain":["Symptomatic","Asymptomatic"],"range":["#ff0000","transparent"]}}}}]}]},
{"title":"RBM4B","width":157,"height":43,"encoding":{"x":{"field":"t","type":"quantitative","scale":{"domain":[0,108],"nice":false},"axis":{"values":[0,12,29,53,69,93,108],"labelOverlap":false,"title":"Time(h)"}}},"layer":[{"data":{"values":[{"t":53}]},"mark":{"type":"rule","color":"#808080","strokeDash":[1,2],"strokeWidth":1},"encoding":{}},{"transform":[{"filter":"datum.g==='RBM4B'"},{"fold":["Symptomatic","Asymptomatic"],"as":["group","cv"]}],"encoding":{"y":{"field":"cv","type":"quantitative","scale":{"domain":[0.0105,0.058],"nice":false,"zero":false},"axis":{"values":[0.02,0.04],"format":"~g","labelOverlap":false,"title":null}},"color":{"field":"group","type":"nominal","title":null,"scale":{"domain":["Symptomatic","Asymptomatic"],"range":["#ff0000","#0000ff"]}}},"layer":[{"mark":{"type":"line","strokeWidth":2}},{"mark":{"type":"point","filled":false,"size":50,"strokeWidth":2,"opacity":1},"encoding":{"fill":{"field":"group","type":"nominal","title":null,"scale":{"domain":["Symptomatic","Asymptomatic"],"range":["#ff0000","transparent"]}}}}]}]},
{"title":"RPS2","width":157,"height":43,"encoding":{"x":{"field":"t","type":"quantitative","scale":{"domain":[0,108],"nice":false},"axis":{"values":[0,12,29,53,69,93,108],"labelOverlap":false,"title":"Time(h)"}}},"layer":[{"data":{"values":[{"t":53}]},"mark":{"type":"rule","color":"#808080","strokeDash":[1,2],"strokeWidth":1},"encoding":{}},{"transform":[{"filter":"datum.g==='RPS2'"},{"fold":["Symptomatic","Asymptomatic"],"as":["group","cv"]}],"encoding":{"y":{"field":"cv","type":"quantitative","scale":{"domain":[0.0084,0.0287],"nice":false,"zero":false},"axis":{"values":[0.01,0.015,0.02,0.025],"format":"~g","labelOverlap":false,"title":"CV"}},"color":{"field":"group","type":"nominal","title":null,"scale":{"domain":["Symptomatic","Asymptomatic"],"range":["#ff0000","#0000ff"]}}},"layer":[{"mark":{"type":"line","strokeWidth":2}},{"mark":{"type":"point","filled":false,"size":50,"strokeWidth":2,"opacity":1},"encoding":{"fill":{"field":"group","type":"nominal","title":null,"scale":{"domain":["Symptomatic","Asymptomatic"],"range":["#ff0000","transparent"]}}}}]}]},
{"title":"SLBP","width":157,"height":43,"encoding":{"x":{"field":"t","type":"quantitative","scale":{"domain":[0,108],"nice":false},"axis":{"values":[0,12,29,53,69,93,108],"labelOverlap":false,"title":"Time(h)"}}},"layer":[{"data":{"values":[{"t":53}]},"mark":{"type":"rule","color":"#808080","strokeDash":[1,2],"strokeWidth":1},"encoding":{}},{"transform":[{"filter":"datum.g==='SLBP'"},{"fold":["Symptomatic","Asymptomatic"],"as":["group","cv"]}],"encoding":{"y":{"field":"cv","type":"quantitative","scale":{"domain":[0.011,0.0502],"nice":false,"zero":false},"axis":{"values":[0.02,0.04],"format":"~g","labelOverlap":false,"title":null}},"color":{"field":"group","type":"nominal","title":null,"scale":{"domain":["Symptomatic","Asymptomatic"],"range":["#ff0000","#0000ff"]}}},"layer":[{"mark":{"type":"line","strokeWidth":2}},{"mark":{"type":"point","filled":false,"size":50,"strokeWidth":2,"opacity":1},"encoding":{"fill":{"field":"group","type":"nominal","title":null,"scale":{"domain":["Symptomatic","Asymptomatic"],"range":["#ff0000","transparent"]}}}}]}]},
{"title":"SP110","width":157,"height":43,"encoding":{"x":{"field":"t","type":"quantitative","scale":{"domain":[0,108],"nice":false},"axis":{"values":[0,12,29,53,69,93,108],"labelOverlap":false,"title":"Time(h)"}}},"layer":[{"data":{"values":[{"t":53}]},"mark":{"type":"rule","color":"#808080","strokeDash":[1,2],"strokeWidth":1},"encoding":{}},{"transform":[{"filter":"datum.g==='SP110'"},{"fold":["Symptomatic","Asymptomatic"],"as":["group","cv"]}],"encoding":{"y":{"field":"cv","type":"quantitative","scale":{"domain":[0.016,0.0736],"nice":false,"zero":false},"axis":{"values":[0.02,0.04,0.06],"format":"~g","labelOverlap":false,"title":null}},"color":{"field":"group","type":"nominal","title":null,"scale":{"domain":["Symptomatic","Asymptomatic"],"range":["#ff0000","#0000ff"]}}},"layer":[{"mark":{"type":"line","strokeWidth":2}},{"mark":{"type":"point","filled":false,"size":50,"strokeWidth":2,"opacity":1},"encoding":{"fill":{"field":"group","type":"nominal","title":null,"scale":{"domain":["Symptomatic","Asymptomatic"],"range":["#ff0000","transparent"]}}}}]}]},
{"title":"STMN1","width":157,"height":43,"encoding":{"x":{"field":"t","type":"quantitative","scale":{"domain":[0,108],"nice":false},"axis":{"values":[0,12,29,53,69,93,108],"labelOverlap":false,"title":"Time(h)"}}},"layer":[{"data":{"values":[{"t":53}]},"mark":{"type":"rule","color":"#808080","strokeDash":[1,2],"strokeWidth":1},"encoding":{}},{"transform":[{"filter":"datum.g==='STMN1'"},{"fold":["Symptomatic","Asymptomatic"],"as":["group","cv"]}],"encoding":{"y":{"field":"cv","type":"quantitative","scale":{"domain":[0.028,0.082],"nice":false,"zero":false},"axis":{"values":[0.04,0.06,0.08],"format":"~g","labelOverlap":false,"title":null}},"color":{"field":"group","type":"nominal","title":null,"scale":{"domain":["Symptomatic","Asymptomatic"],"range":["#ff0000","#0000ff"]}}},"layer":[{"mark":{"type":"line","strokeWidth":2}},{"mark":{"type":"point","filled":false,"size":50,"strokeWidth":2,"opacity":1},"encoding":{"fill":{"field":"group","type":"nominal","title":null,"scale":{"domain":["Symptomatic","Asymptomatic"],"range":["#ff0000","transparent"]}}}}]}]},
{"title":"VPRBP","width":157,"height":43,"encoding":{"x":{"field":"t","type":"quantitative","scale":{"domain":[0,108],"nice":false},"axis":{"values":[0,12,29,53,69,93,108],"labelOverlap":false,"title":"Time(h)"}}},"layer":[{"data":{"values":[{"t":53}]},"mark":{"type":"rule","color":"#808080","strokeDash":[1,2],"strokeWidth":1},"encoding":{}},{"transform":[{"filter":"datum.g==='VPRBP'"},{"fold":["Symptomatic","Asymptomatic"],"as":["group","cv"]}],"encoding":{"y":{"field":"cv","type":"quantitative","scale":{"domain":[0.023,0.072],"nice":false,"zero":false},"axis":{"values":[0.03,0.04,0.05,0.06,0.07],"format":"~g","labelOverlap":false,"title":null}},"color":{"field":"group","type":"nominal","title":null,"scale":{"domain":["Symptomatic","Asymptomatic"],"range":["#ff0000","#0000ff"]}}},"layer":[{"mark":{"type":"line","strokeWidth":2}},{"mark":{"type":"point","filled":false,"size":50,"strokeWidth":2,"opacity":1},"encoding":{"fill":{"field":"group","type":"nominal","title":null,"scale":{"domain":["Symptomatic","Asymptomatic"],"range":["#ff0000","transparent"]}}}}]}]}
],
"config":{
"font":"Liberation Sans",
"view":{"stroke":"#000000","strokeWidth":1},
"axis":{"labelFont":"Liberation Sans","labelFontSize":13,"labelFontWeight":"bold","labelColor":"#000000","titleFont":"Liberation Sans","titleFontSize":14,"titleFontWeight":"bold","titleColor":"#000000","grid":false,"domain":false,"tickColor":"#000000","tickSize":-3,"labelOverlap":false,"labelFlush":false,"labelBound":false},
"axisX":{"labelPadding":6,"titlePadding":2,"labelOverlap":false,"labelFontSize":14,"titleFontSize":15},
"axisY":{"labelPadding":16,"titlePadding":4},
"title":{"font":"Liberation Sans","fontSize":15,"fontWeight":"bold","color":"#000000","offset":11},
"legend":{"orient":"none","legendX":-8,"legendY":399,"strokeColor":"#555555","fillColor":"#ffffff","padding":7,"symbolType":"M-0.79,0L3.21,0M0.79,0A0.42,0.42 0 1,0 1.63,0A0.42,0.42 0 1,0 0.79,0Z","symbolSize":361,"symbolStrokeWidth":2,"labelFont":"Liberation Sans","labelFontSize":15,"labelFontWeight":"bold","labelColor":"#000000","labelOffset":25,"rowPadding":1}
}
}
